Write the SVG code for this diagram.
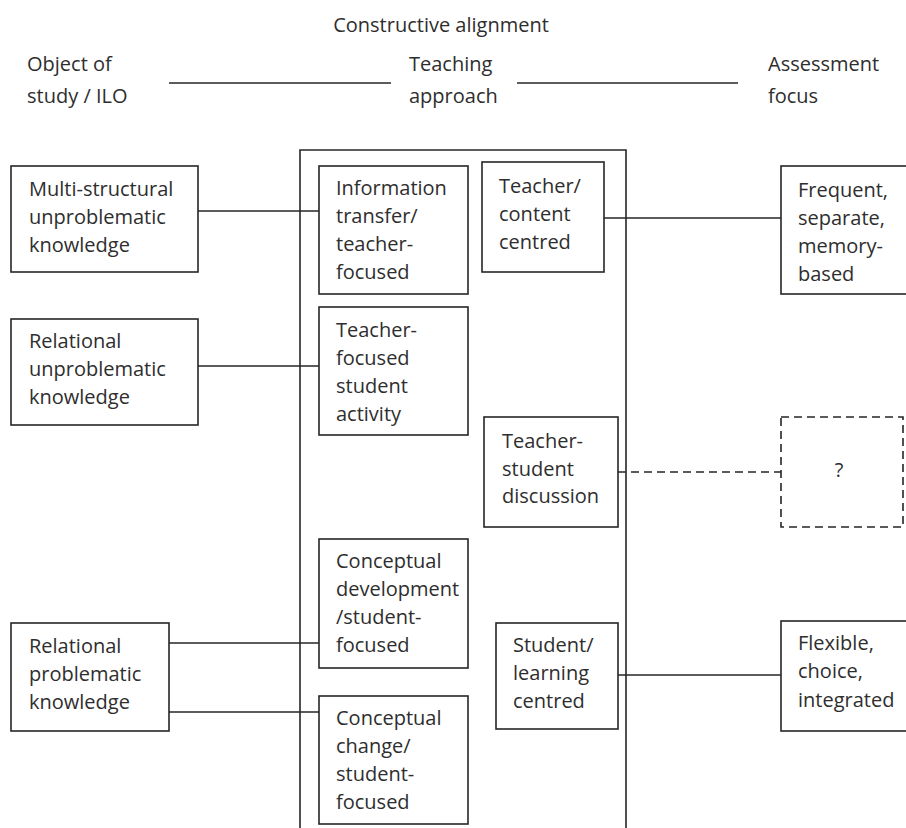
<svg xmlns="http://www.w3.org/2000/svg" width="906" height="828" viewBox="0 0 906 828">
  <style>
    text { font-family: "Open Sans", "Liberation Sans", sans-serif; font-size: 20px; fill: #2e2e2e; }
    .box { fill: #ffffff; stroke: #262626; stroke-width: 1.6; }
    .dash { fill: #ffffff; stroke: #262626; stroke-width: 1.6; stroke-dasharray: 8 5; }
    .line { fill: none; stroke: #262626; stroke-width: 1.6; }
    .dline { fill: none; stroke: #262626; stroke-width: 1.6; stroke-dasharray: 8 5; }
  </style>
  <rect width="906" height="828" fill="#ffffff"/>

  <!-- Header -->
  <g id="header">
    <text x="441" y="32" text-anchor="middle">Constructive alignment</text>
    <text x="27" y="71">Object of</text>
    <text x="27" y="103">study / ILO</text>
    <text x="409" y="71">Teaching</text>
    <text x="409" y="103">approach</text>
    <text x="768" y="71">Assessment</text>
    <text x="768" y="103">focus</text>
    <line class="line" x1="169" y1="83" x2="391" y2="83"/>
    <line class="line" x1="517" y1="83" x2="738" y2="83"/>
  </g>

  <!-- Teaching approach frame (open at the bottom) -->
  <g id="frame">
    <path class="line" d="M300,830 V150 H626 V830"/>
  </g>

  <!-- Connectors -->
  <g id="connectors">
    <line class="line" x1="198" y1="211" x2="319" y2="211"/>
    <line class="line" x1="198" y1="366" x2="319" y2="366"/>
    <line class="line" x1="169" y1="643" x2="319" y2="643"/>
    <line class="line" x1="169" y1="712" x2="319" y2="712"/>
    <line class="line" x1="604" y1="218" x2="781" y2="218"/>
    <line class="dline" x1="618" y1="472" x2="781" y2="472"/>
    <line class="line" x1="618" y1="675" x2="781" y2="675"/>
  </g>

  <!-- Object of study / ILO -->
  <g id="multi-structural">
    <rect class="box" x="11" y="166" width="187" height="106"/>
    <text x="29" y="196">Multi-structural</text>
    <text x="29" y="224">unproblematic</text>
    <text x="29" y="252">knowledge</text>
  </g>
  <g id="relational-unproblematic">
    <rect class="box" x="11" y="319" width="187" height="106"/>
    <text x="29" y="348">Relational</text>
    <text x="29" y="376">unproblematic</text>
    <text x="29" y="404">knowledge</text>
  </g>
  <g id="relational-problematic">
    <rect class="box" x="11" y="623" width="158" height="108"/>
    <text x="29" y="653">Relational</text>
    <text x="29" y="681">problematic</text>
    <text x="29" y="709">knowledge</text>
  </g>

  <!-- Teaching approaches -->
  <g id="information-transfer">
    <rect class="box" x="319" y="166" width="149" height="128"/>
    <text x="336" y="195">Information</text>
    <text x="336" y="223">transfer/</text>
    <text x="336" y="251">teacher-</text>
    <text x="336" y="279">focused</text>
  </g>
  <g id="teacher-focused-activity">
    <rect class="box" x="319" y="307" width="149" height="128"/>
    <text x="336" y="337">Teacher-</text>
    <text x="336" y="365">focused</text>
    <text x="336" y="393">student</text>
    <text x="336" y="421">activity</text>
  </g>
  <g id="conceptual-development">
    <rect class="box" x="319" y="539" width="149" height="129"/>
    <text x="336" y="568">Conceptual</text>
    <text x="336" y="596">development</text>
    <text x="336" y="624">/student-</text>
    <text x="336" y="652">focused</text>
  </g>
  <g id="conceptual-change">
    <rect class="box" x="319" y="696" width="149" height="128"/>
    <text x="336" y="725">Conceptual</text>
    <text x="336" y="753">change/</text>
    <text x="336" y="781">student-</text>
    <text x="336" y="809">focused</text>
  </g>
  <g id="teacher-content-centred">
    <rect class="box" x="482" y="162" width="122" height="110"/>
    <text x="499" y="193">Teacher/</text>
    <text x="499" y="221">content</text>
    <text x="499" y="249">centred</text>
  </g>
  <g id="teacher-student-discussion">
    <rect class="box" x="484" y="417" width="134" height="110"/>
    <text x="502" y="448">Teacher-</text>
    <text x="502" y="476">student</text>
    <text x="502" y="503">discussion</text>
  </g>
  <g id="student-learning-centred">
    <rect class="box" x="496" y="623" width="122" height="106"/>
    <text x="513" y="652">Student/</text>
    <text x="513" y="680">learning</text>
    <text x="513" y="708">centred</text>
  </g>

  <!-- Assessment focus -->
  <g id="frequent-separate">
    <rect class="box" x="781" y="166" width="135" height="128"/>
    <text x="798" y="197">Frequent,</text>
    <text x="798" y="225">separate,</text>
    <text x="798" y="253">memory-</text>
    <text x="798" y="281">based</text>
  </g>
  <g id="unknown-assessment">
    <rect class="dash" x="781" y="417" width="122" height="110"/>
    <text x="839" y="477" text-anchor="middle">?</text>
  </g>
  <g id="flexible-choice">
    <rect class="box" x="781" y="621" width="135" height="110"/>
    <text x="798" y="650">Flexible,</text>
    <text x="798" y="678">choice,</text>
    <text x="798" y="707">integrated</text>
  </g>
</svg>
